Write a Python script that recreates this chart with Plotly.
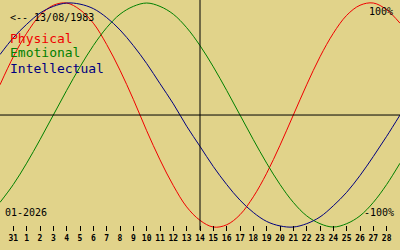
import plotly.graph_objects as go

# Day index: 0 = 31 Dec 2025, 1..28 = days of January 2026 (-1 and 29 are edge days)
days = list(range(-1, 30))
tick_days = list(range(0, 29))
tick_labels = ["31"] + [str(d) for d in range(1, 29)]

physical = [27, 52, 73, 89, 98, 100, 94, 82, 63, 40, 14, -14, -40, -63, -82, -94,
            -100, -98, -89, -73, -52, -27, 0, 27, 52, 73, 89, 98, 100, 94, 82]
emotional = [-78, -62, -43, -22, 0, 22, 43, 62, 78, 90, 97, 100, 97, 90, 78, 62,
             43, 22, 0, -22, -43, -62, -78, -90, -97, -100, -97, -90, -78, -62, -43]
intellectual = [54, 69, 81, 91, 97, 100, 99, 95, 87, 76, 62, 46, 28, 10, -10, -28,
                -46, -62, -76, -87, -95, -99, -100, -97, -91, -81, -69, -54, -37, -19, 0]

series = [("Physical", physical, "#f00000"),
          ("Emotional", emotional, "#008000"),
          ("Intellectual", intellectual, "#000080")]

BG = "#e1d38a"
MONO = "DejaVu Sans Mono"

fig = go.Figure()
for name, vals, col in series:
    fig.add_trace(go.Scatter(x=days, y=vals, mode="lines", name=name,
                             line=dict(color=col, width=1, shape="spline", smoothing=1),
                             hoverinfo="skip"))

# center cross
fig.add_shape(type="line", x0=-1, x1=29, y0=0, y1=0, line=dict(color="black", width=1))
fig.add_shape(type="line", x0=14, x1=14, y0=-102.7, y1=102.7, line=dict(color="black", width=1))

W, H = 400, 250
def py(pix):
    return 1 - pix / H

ann = [
    ("<-- 13/08/1983", 8, 17, "black", 10, "left"),
    ("Physical", 8, 38, series[0][2], 13, "left"),
    ("Emotional", 8, 53, series[1][2], 13, "left"),
    ("Intellectual", 8, 68.5, series[2][2], 13, "left"),
    ("100%", 395, 11.5, "black", 10, "right"),
    ("-100%", 396, 212, "black", 10, "right"),
    ("01-2026", 3, 212, "black", 10, "left"),
]
for txt, x, y, col, sz, xa in ann:
    fig.add_annotation(text=txt, x=x / W, y=py(y), xref="paper", yref="paper",
                       xanchor=xa, yanchor="middle", showarrow=False,
                       font=dict(family=MONO, size=sz, color=col))

fig.update_layout(
    width=W, height=H, margin=dict(l=0, r=0, t=0, b=0),
    paper_bgcolor=BG, plot_bgcolor=BG, showlegend=False,
    xaxis=dict(range=[-1, 29], showgrid=False, zeroline=False, showline=False,
               tickmode="array", tickvals=tick_days, ticktext=tick_labels,
               ticks="outside", ticklen=5, tickcolor="black", tickwidth=1,
               anchor="free", position=(H - 225) / H,
               tickfont=dict(family=MONO, size=8, color="black", weight="bold")),
    yaxis=dict(range=[-120.5, 102.7], showgrid=False, zeroline=False,
               showticklabels=False, showline=False),
)

fig.write_html("out.html")
